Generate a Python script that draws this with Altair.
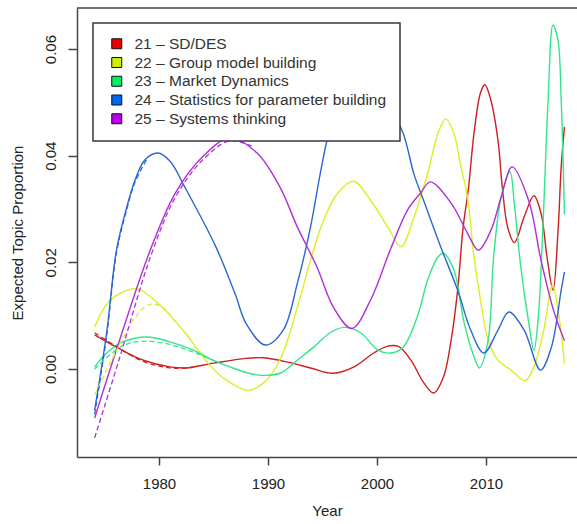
import altair as alt
import pandas as pd

TOPICS = [
    "21 – SD/DES",
    "22 – Group model building",
    "23 – Market Dynamics",
    "24 – Statistics for parameter building",
    "25 – Systems thinking",
]
KEY_COLOURS = ["#EE0000", "#CCF000", "#00EE66", "#0066EE", "#BB00EE"]
LINE_COLOURS = ["#CC1F1F", "#DDEE22", "#33E58A", "#2A68D0", "#B02FD8"]

X_TICKS = [1980, 1990, 2000, 2010]
Y_TICKS = [0.0, 0.02, 0.04, 0.06]

# Expected topic proportion over time (point estimate, solid lines)
sd_des_years = [1974.1, 1976.1, 1978.5, 1981.0, 1982.5, 1985.0, 1988.0, 1989.6, 1991.8, 1993.9,
                1996.0, 1997.9, 1999.7, 2001.0, 2002.0, 2003.1, 2004.3, 2005.2, 2006.1, 2006.8,
                2007.4, 2007.9, 2008.4, 2008.9, 2009.5, 2009.9, 2010.45, 2011.1, 2011.5, 2012.0,
                2012.6, 2013.5, 2014.4, 2015.05, 2015.6, 2016.15, 2016.6, 2016.9, 2017.2]
sd_des_values = [0.0064, 0.0041, 0.0017, 0.0004, 0.0002, 0.0011, 0.0020, 0.0021, 0.0013, 0.0002,
                 -0.0008, 0.0004, 0.0030, 0.0043, 0.0042, 0.0017, -0.0026, -0.0045, -0.0015, 0.0054,
                 0.0148, 0.0265, 0.0340, 0.0442, 0.0518, 0.0533, 0.0504, 0.0429, 0.0340, 0.0265,
                 0.0237, 0.0285, 0.0325, 0.0292, 0.0210, 0.0148, 0.0255, 0.0379, 0.0454]

gmb_years = [1974.1, 1975.5, 1977.5, 1978.3, 1980.3, 1982.4, 1984.5, 1986.1, 1988.2, 1989.6,
             1991.1, 1992.7, 1993.9, 1995.1, 1996.4, 1997.85, 1999.4, 2001.0, 2002.2, 2003.4,
             2004.0, 2004.65, 2005.6, 2006.3, 2007.05, 2007.7, 2008.3, 2008.9, 2009.5, 2010.2,
             2011.1, 2012.3, 2013.6, 2014.4, 2015.3, 2016.1, 2016.7, 2017.2]
gmb_values = [0.0079, 0.0129, 0.0150, 0.0148, 0.0116, 0.0068, 0.0011, -0.0020, -0.0040, -0.0026,
              0.0017, 0.0116, 0.0204, 0.0279, 0.0330, 0.0352, 0.0317, 0.0266, 0.0229, 0.0285,
              0.0323, 0.0367, 0.0442, 0.0469, 0.0442, 0.0379, 0.0323, 0.0210, 0.0129, 0.0054,
              0.0017, -0.0002, -0.0022, 0.0004, 0.0073, 0.0158, 0.0098, 0.0010]

market_years = [1974.1, 1975.2, 1976.7, 1978.9, 1981.0, 1983.1, 1984.7, 1986.5, 1989.0, 1991.1,
                1992.7, 1994.2, 1995.7, 1997.0, 1998.5, 2000.05, 2001.25, 2002.4, 2003.7, 2004.65,
                2005.6, 2006.1, 2007.05, 2008.0, 2008.9, 2009.4, 2010.2, 2010.7, 2011.4, 2012.2,
                2012.6, 2013.2, 2013.9, 2014.4, 2014.8, 2015.2, 2015.7, 2016.15, 2016.6, 2016.9,
                2017.2]
market_values = [0.0004, 0.0030, 0.0051, 0.0060, 0.0051, 0.0036, 0.0019, 0.0004, -0.0011, -0.0008,
                 0.0017, 0.0041, 0.0068, 0.0078, 0.0068, 0.0036, 0.0030, 0.0041, 0.0098, 0.0167,
                 0.0210, 0.0217, 0.0186, 0.0086, 0.0023, 0.0002, 0.0054, 0.0210, 0.0323, 0.0370,
                 0.0310, 0.0190, 0.0090, 0.0035, 0.0098, 0.0255, 0.0504, 0.0645, 0.0617, 0.0504,
                 0.0290]

stats_years = [1974.1, 1975.2, 1976.1, 1977.0, 1977.8, 1978.7, 1979.9, 1981.0, 1982.4, 1985.2,
               1987.0, 1988.0, 1989.75, 1991.4, 1992.7, 1993.9, 1994.8, 1995.5, 1996.6, 1998.2,
               1999.8, 2001.2, 2002.4, 2003.4, 2004.3, 2005.85, 2007.4, 2008.6, 2009.8, 2011.1,
               2012.1, 2013.5, 2015.0, 2016.0, 2016.9, 2017.2]
stats_values = [-0.0077, 0.0068, 0.0223, 0.0300, 0.0354, 0.0392, 0.0405, 0.0390, 0.0340, 0.0230,
                0.0140, 0.0085, 0.0045, 0.0073, 0.0161, 0.0266, 0.0367, 0.0435, 0.0500, 0.0540,
                0.0530, 0.0490, 0.0442, 0.0365, 0.0315, 0.0229, 0.0148, 0.0073, 0.0030, 0.0073,
                0.0107, 0.0073, -0.0002, 0.0041, 0.0148, 0.0182]

systems_years = [1974.1, 1976.1, 1979.2, 1981.5, 1984.0, 1986.5, 1989.0, 1991.1, 1992.7, 1994.5,
                 1996.0, 1997.7, 1999.4, 2001.25, 2002.8, 2004.0, 2004.9, 2006.8, 2008.3, 2009.3,
                 2010.45, 2011.4, 2012.4, 2013.9, 2015.05, 2016.2, 2017.2]
systems_values = [-0.0092, 0.0036, 0.0223, 0.0330, 0.0398, 0.0433, 0.0405, 0.0341, 0.0266, 0.0191,
                  0.0116, 0.0076, 0.0129, 0.0225, 0.0298, 0.0330, 0.0351, 0.0311, 0.0255, 0.0223,
                  0.0260, 0.0323, 0.0379, 0.0317, 0.0204, 0.0110, 0.0053]

# Second estimate (dashed lines) over the early years, where it separates from the first
sd_des_alt_years = [1974.1, 1976.1, 1978.5, 1981.0, 1983.0]
sd_des_alt_values = [0.0068, 0.0042, 0.0015, 0.0002, 0.0003]
gmb_alt_years = [1974.1, 1975.5, 1976.7, 1977.8, 1979.0, 1980.2, 1981.5]
gmb_alt_values = [-0.0048, 0.0010, 0.0058, 0.0096, 0.0120, 0.0118, 0.0088]
market_alt_years = [1974.1, 1976.7, 1978.9, 1981.0, 1983.1, 1985.0]
market_alt_values = [0.0000, 0.0044, 0.0052, 0.0046, 0.0032, 0.0016]
stats_alt_years = [1974.1, 1975.2, 1976.1, 1977.0, 1977.8, 1979.0]
stats_alt_values = [-0.0085, 0.0062, 0.0218, 0.0296, 0.0350, 0.0398]
systems_alt_years = [1974.1, 1976.3, 1979.3, 1981.5, 1984.0, 1986.5, 1988.5]
systems_alt_values = [-0.0129, 0.0015, 0.0215, 0.0322, 0.0392, 0.0428, 0.0418]


def series(topic, years, values):
    return pd.DataFrame({"topic": topic, "year": years, "value": values})


solid_df = pd.concat([
    series(TOPICS[0], sd_des_years, sd_des_values),
    series(TOPICS[1], gmb_years, gmb_values),
    series(TOPICS[2], market_years, market_values),
    series(TOPICS[3], stats_years, stats_values),
    series(TOPICS[4], systems_years, systems_values),
], ignore_index=True)

dashed_df = pd.concat([
    series(TOPICS[0], sd_des_alt_years, sd_des_alt_values),
    series(TOPICS[1], gmb_alt_years, gmb_alt_values),
    series(TOPICS[2], market_alt_years, market_alt_values),
    series(TOPICS[3], stats_alt_years, stats_alt_values),
    series(TOPICS[4], systems_alt_years, systems_alt_values),
], ignore_index=True)

# Key entries sit outside the year range; only their legend swatches show
key_df = pd.DataFrame({"key": TOPICS, "year": [1960.0] * 5, "value": [0.0] * 5})

FONT = "Liberation Sans"
INK = "#222222"
FRAME = "#444444"

x_enc = alt.X(
    "year:Q",
    scale=alt.Scale(domain=[1972.48, 2018.35], nice=False, zero=False),
    axis=alt.Axis(values=X_TICKS, format="d", title="Year", tickSize=8,
                  labelPadding=11, titlePadding=12, grid=False),
)
y_enc = alt.Y(
    "value:Q",
    scale=alt.Scale(domain=[-0.0165, 0.0677], nice=False, zero=False),
    axis=alt.Axis(values=Y_TICKS, format=".2f", title="Expected Topic Proportion",
                  tickSize=9, labelAngle=270, labelAlign="center", labelBaseline="bottom",
                  labelPadding=10, titlePadding=18, grid=False),
)
stroke_enc = alt.Stroke("topic:N", scale=alt.Scale(domain=TOPICS, range=LINE_COLOURS), legend=None)

solid = alt.Chart(solid_df).mark_line(interpolate="catmull-rom", strokeWidth=1.4, clip=True).encode(
    x=x_enc, y=y_enc, stroke=stroke_enc
)
dashed = alt.Chart(dashed_df).mark_line(
    interpolate="catmull-rom", strokeWidth=1.3, strokeDash=[5, 3], clip=True
).encode(x=x_enc, y=y_enc, stroke=stroke_enc)

key = alt.Chart(key_df).mark_square(size=100, filled=True, opacity=1, clip=True).encode(
    x=x_enc,
    y=y_enc,
    fill=alt.Fill(
        "key:N",
        scale=alt.Scale(domain=TOPICS, range=KEY_COLOURS),
        legend=alt.Legend(
            title=None, orient="none", legendX=16, legendY=15,
            symbolType="square", symbolSize=100, symbolStrokeColor="#111111",
            symbolStrokeWidth=1, symbolOffset=3, labelOffset=10, rowPadding=1.75,
            padding=13, fillColor="white", strokeColor="#3a3a3a", labelLimit=400,
            labelFont=FONT, labelFontSize=15.5, labelColor="#333333",
        ),
    ),
)

# Top edge of the plot frame
top_edge = alt.Chart(pd.DataFrame({"edge": [1]})).mark_rule(color=FRAME, strokeWidth=1.5).encode(
    x=alt.value(0), x2=alt.value(500), y=alt.value(0)
)

chart = (
    alt.layer(solid, dashed, key, top_edge)
    .resolve_scale(fill="independent", stroke="independent")
    .properties(
        width=500,
        height=449,
        autosize=alt.AutoSizeParams(type="none"),
        padding={"left": 77, "top": 8, "right": 0, "bottom": 67},
        background="white",
    )
    .configure_view(stroke=None)
    .configure_axis(
        labelFont=FONT, titleFont=FONT, labelFontSize=15, titleFontSize=15,
        titleFontWeight="normal", labelColor=INK, titleColor=INK,
        domainColor=FRAME, tickColor=FRAME, domainWidth=1.5, tickWidth=1.5,
    )
    .configure_legend(strokeWidth=1.5)
)

chart.save("out.html", embed_options={"renderer": "svg", "actions": False})
